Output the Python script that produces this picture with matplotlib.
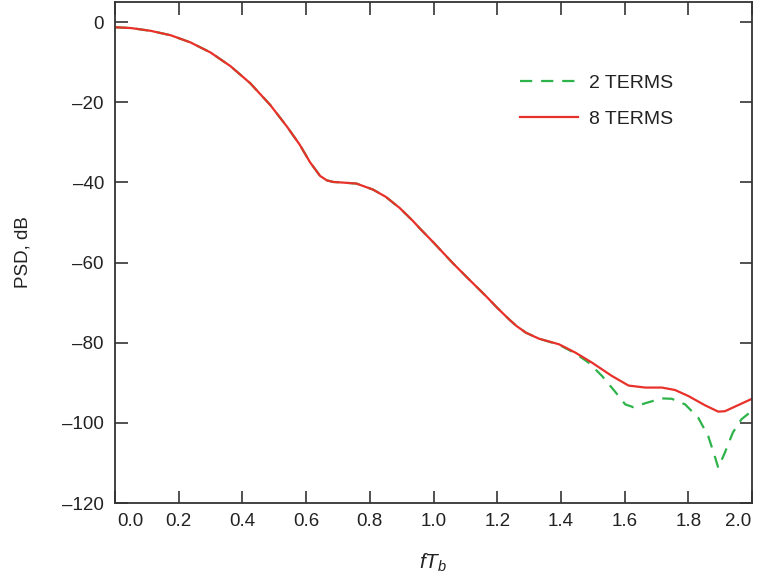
import matplotlib
matplotlib.use("Agg")
import matplotlib.pyplot as plt
import matplotlib.transforms as mtransforms

plt.rcParams['font.family'] = ['Liberation Sans', 'DejaVu Sans']
plt.rcParams['mathtext.fontset'] = 'custom'
plt.rcParams['mathtext.it'] = 'Liberation Sans:italic'
plt.rcParams['mathtext.rm'] = 'Liberation Sans'

# 8 TERMS (red, solid)
f8 = [0.0, 0.05, 0.1125, 0.175, 0.2375, 0.3, 0.3625, 0.425, 0.4875, 0.54, 0.58, 0.6125,
      0.644, 0.665, 0.685, 0.706, 0.758, 0.81, 0.85, 0.894, 0.935, 0.956, 1.0, 1.06, 1.1,
      1.165, 1.2, 1.2375, 1.26, 1.29, 1.331, 1.394, 1.446, 1.498, 1.56, 1.6125, 1.665,
      1.717, 1.758, 1.8, 1.852, 1.894, 1.915, 1.956, 2.0]
psd8 = [-1.3, -1.5, -2.2, -3.3, -5.1, -7.6, -11.0, -15.3, -20.7, -26.1, -30.6, -35.0,
        -38.4, -39.5, -39.9, -40.0, -40.3, -41.8, -43.6, -46.4, -49.6, -51.4, -55.0, -60.1, -63.3,
        -68.4, -71.3, -74.2, -75.8, -77.5, -79.0, -80.4, -82.5, -85.0, -88.3, -90.7, -91.2,
        -91.2, -91.8, -93.3, -95.6, -97.2, -97.1, -95.6, -94.0]

# 2 TERMS (green, dashed)
f2 = [0.0, 0.05, 0.1125, 0.175, 0.2375, 0.3, 0.3625, 0.425, 0.4875, 0.54, 0.58, 0.6125,
      0.644, 0.665, 0.685, 0.706, 0.758, 0.81, 0.85, 0.894, 0.935, 0.956, 1.0, 1.06, 1.1,
      1.165, 1.2, 1.2375, 1.26, 1.29, 1.331, 1.394, 1.446, 1.4875, 1.529, 1.571, 1.602,
      1.628, 1.665, 1.717, 1.748, 1.79, 1.831, 1.8625, 1.883, 1.894, 1.915, 1.94, 1.967, 2.0]
psd2 = [-1.3, -1.5, -2.2, -3.3, -5.1, -7.6, -11.0, -15.3, -20.7, -26.1, -30.6, -35.0,
        -38.4, -39.5, -39.9, -40.0, -40.3, -41.8, -43.6, -46.4, -49.6, -51.4, -55.0, -60.1, -63.3,
        -68.4, -71.3, -74.2, -75.8, -77.5, -79.0, -80.5, -82.7, -85.0, -88.3, -92.3, -95.4,
        -96.1, -95.1, -93.9, -94.0, -95.4, -98.7, -103.3, -108.3, -111.2, -107.4, -102.4, -99.1, -97.0]

xticks = [0.0, 0.2, 0.4, 0.6, 0.8, 1.0, 1.2, 1.4, 1.6, 1.8, 2.0]
xticklabels = ['0.0', '0.2', '0.4', '0.6', '0.8', '1.0', '1.2', '1.4', '1.6', '1.8', '2.0']
yticks = [0, -20, -40, -60, -80, -100, -120]
yticklabels = ['0', '\u201320', '\u201340', '\u201360', '\u201380', '\u2013100', '\u2013120']

green = '#2db34a'
red = '#e8312a'
dark = '#333333'
txt = '#222222'

fig = plt.figure(figsize=(7.62, 5.81), dpi=100)
ax = fig.add_axes([115/762, 1 - 503/581, (752-115)/762, (503-2)/581])

ax.plot(f2, psd2, color=green, lw=1.6, dashes=(5.5, 4.0), label='2 TERMS')
ax.plot(f8, psd8, color=red, lw=1.6, label='8 TERMS')

ax.set_xlim(0, 2.0)
ax.set_ylim(-120, 5)
ax.set_xticks(xticks)
ax.set_xticklabels(xticklabels)
ax.set_yticks(yticks)
ax.set_yticklabels(yticklabels)

ax.tick_params(direction='in', length=9, width=1.2, color=dark, labelsize=13.5,
               labelcolor=txt, top=True, right=True)
ax.tick_params(axis='x', pad=7)
ax.tick_params(axis='y', pad=8)
for s in ax.spines.values():
    s.set_color(dark)
    s.set_linewidth(1.3)

# first and last x tick labels sit inside the axis span, as in the reference
labels = ax.get_xticklabels()
labels[0].set_transform(labels[0].get_transform() + mtransforms.ScaledTranslation(15/100, 0, fig.dpi_scale_trans))
labels[-1].set_transform(labels[-1].get_transform() + mtransforms.ScaledTranslation(-14/100, 0, fig.dpi_scale_trans))

ax.set_ylabel('PSD, dB', fontsize=13.5, color=txt, labelpad=22)
ax.set_xlabel('$fT_b$', fontsize=15, color=txt, labelpad=16)

leg = ax.legend(loc='upper left', bbox_to_anchor=(0.608, 0.89), frameon=False,
                fontsize=14, handlelength=3.0, handletextpad=0.55, labelspacing=0.95)
for t in leg.get_texts():
    t.set_color(txt)

fig.savefig('out.png', dpi=100)
